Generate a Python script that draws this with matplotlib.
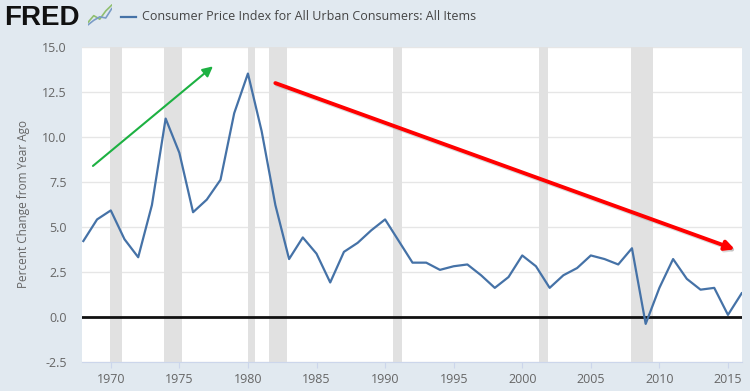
import matplotlib
matplotlib.use("Agg")
import matplotlib.pyplot as plt
import matplotlib.patheffects as pe

years = list(range(1968, 2017))
cpi_change = [4.2, 5.4, 5.9, 4.3, 3.3, 6.2, 11.0, 9.1, 5.8, 6.5, 7.6, 11.3, 13.5,
              10.3, 6.2, 3.2, 4.4, 3.5, 1.9, 3.6, 4.1, 4.8, 5.4, 4.2, 3.0, 3.0,
              2.6, 2.8, 2.9, 2.3, 1.6, 2.2, 3.4, 2.8, 1.6, 2.3, 2.7, 3.4, 3.2,
              2.9, 3.8, -0.4, 1.6, 3.2, 2.1, 1.5, 1.6, 0.1, 1.3]
recessions = [(1969.92, 1970.85), (1973.87, 1975.2), (1980.0, 1980.5),
              (1981.5, 1982.87), (1990.55, 1991.2), (2001.2, 2001.87),
              (2007.92, 2009.5)]
y_ticks = [-2.5, 0.0, 2.5, 5.0, 7.5, 10.0, 12.5, 15.0]
x_ticks = [1970, 1975, 1980, 1985, 1990, 1995, 2000, 2005, 2010, 2015]
green_arrow = ((1968.7, 8.37), (1977.45, 13.9))
red_arrow = ((1982.0, 12.97), (2015.5, 3.74))

BG = "#e1e9f0"
LINE = "#4572a7"
TXT = "#666666"

plt.rcParams['font.family'] = ['Open Sans', 'DejaVu Sans']

fig = plt.figure(figsize=(7.5, 3.91), dpi=100)
fig.patch.set_facecolor(BG)
ax = fig.add_axes([0.1093, 0.0749, 0.9889 - 0.1093, 0.881 - 0.0749])
ax.set_facecolor("white")

for a, b in recessions:
    ax.axvspan(a, b, color="#e1e1e1", lw=0, zorder=1)

ax.set_yticks(y_ticks)
ax.set_yticklabels([f"{v:.1f}" for v in y_ticks])
ax.grid(axis="y", color="#e6e6e6", lw=1, zorder=0)
ax.set_axisbelow(True)
ax.axhline(0, color="#111111", lw=2, zorder=2)

ax.plot(years, cpi_change, color=LINE, lw=1.6, zorder=3)

ax.set_xlim(1967.9, 2016.0)
ax.set_ylim(-2.5, 15.0)
ax.set_xticks(x_ticks)

for s in ["top", "right", "left"]:
    ax.spines[s].set_visible(False)
ax.spines["bottom"].set_color("#ccd6eb")
ax.tick_params(axis="y", length=0, colors=TXT, labelsize=9, pad=11)
ax.tick_params(axis="x", length=4, color="#ccd6eb", colors=TXT, labelsize=9, pad=4)
ax.set_ylabel("Percent Change from Year Ago", color=TXT, fontsize=8.5, labelpad=9)

# green arrow
ax.annotate("", xy=green_arrow[1], xytext=green_arrow[0],
            arrowprops=dict(arrowstyle="-|>,head_length=0.6,head_width=0.3",
                            color="#1db142", lw=1.5, shrinkA=0, shrinkB=0),
            zorder=5)
# red arrow with shadow
ax.annotate("", xy=red_arrow[1], xytext=red_arrow[0],
            arrowprops=dict(arrowstyle="-|>,head_length=0.55,head_width=0.28",
                            color="#ff0000", lw=2.8, shrinkA=0, shrinkB=0,
                            path_effects=[pe.SimpleLineShadow(offset=(1.0, -1.2),
                                                              shadow_color="#999999", alpha=0.35),
                                          pe.Normal()]),
            zorder=5)

# header
fig.text(0.006, 0.953, "FRED", fontsize=20, fontweight="bold", color="#111111",
         va="center", ha="left", family=["Liberation Sans", "DejaVu Sans"])
iax = fig.add_axes([0.117, 0.93, 0.032, 0.06])
iax.plot([0, 1, 2, 3, 4], [0.2, 0.5, 0.35, 0.7, 0.95], color="#8fbf6f", lw=1.2)
iax.plot([0, 1, 2, 3, 4], [0.1, 0.3, 0.45, 0.4, 0.8], color="#7a9cc6", lw=1.2)
iax.set_xlim(0, 4); iax.set_ylim(0, 1)
iax.axis("off")
fig.lines.append(plt.Line2D([0.161, 0.181], [0.957, 0.957], color=LINE, lw=1.6,
                            transform=fig.transFigure))
fig.text(0.19, 0.957, "Consumer Price Index for All Urban Consumers: All Items",
         fontsize=9, color="#444444", va="center", ha="left")

fig.savefig("out.png", dpi=100, facecolor=BG)
